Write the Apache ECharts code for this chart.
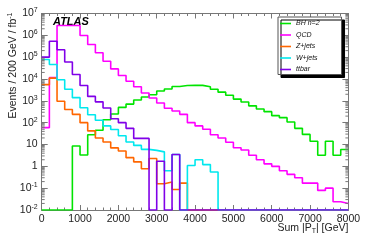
<!DOCTYPE html>
<html><head><meta charset="utf-8">
<script src="https://cdn.jsdelivr.net/npm/echarts@6/dist/echarts.min.js"></script>
<style>html,body{margin:0;padding:0;background:#fff}#c{width:372px;height:242px}</style>
</head><body><div id="c"></div>
<script>
// bin edges: 0..8000 GeV, 200 GeV bins (40 bins); 0 = empty bin
const binWidth = 200;
const seriesNames = ['BH n=2', 'QCD', 'Z+jets', 'W+jets', 'ttbar'];
const bhN2 = [0,0,0,0,8.5,3.3,28,45,135,250,500,710,1100,1500,1900,2800,3500,4500,5000,5100,
  5100,4400,3400,2500,1800,1200,890,590,420,320,210,170,107,55,29,14,3.2,14,3.2,5.9];
const qcd = [59,11500,2.8e6,2.8e6,2.8e6,9.8e5,3.8e5,1.6e5,6.5e4,2.9e4,1.45e4,7900,4400,2300,1350,790,460,340,240,100,
  71,50,28,20,12.6,7.1,5.6,3.2,2.0,1.3,1.0,0.63,0.43,0.30,0.17,0.17,0.079,0.1,0.024,0.02];
const zjets = [5500,11000,950,400,240,100,42,20,13,7,5,2.5,1.6,0.78,2.3,0.16,0.19,0.087,0.17,0,
  0,0,0,0,0,0,0,0,0,0,0,0,0,0,0,0,0,0,0,0];
const wjets = [7.8e4,4.6e4,9300,3400,1400,480,230,130,71,49,25,13,9.1,6.0,5.4,4.6,0.63,3.5,0,1.1,
  2.0,1.2,0.55,0,0,0,0,0,0,0,0,0,0,0,0,0,0,0,0,0];
const ttbar = [1.0e5,5.4e5,2.2e5,6.0e4,1.6e4,5000,1600,900,470,150,100,55,19,19,0,1.7,0,3.5,0,0,
  0,0,0,0,0,0,0,0,0,0,0,0,0,0,0,0,0,0,0,0];
const xTicks = [0,1000,2000,3000,4000,5000,6000,7000,8000];
const xTickLabels = ['0','1000','2000','3000','4000','5000','6000','7000','8000'];
const yTickExp = [-2,-1,0,1,2,3,4,5,6,7];
const yMinorMult = [2,3,4,5,6,7,8,9];
const colors = ['#00e400', '#ff00ff', '#ff6600', '#00e8ee', '#8000e8'];

const yMin = Math.pow(10, yTickExp[0]), yMax = Math.pow(10, yTickExp[yTickExp.length-1]);
function steps(vals){
  const d = vals.map((v,i)=>[i*binWidth, v>0 ? v : yMin]);
  d.push([vals.length*binWidth, vals[vals.length-1]>0 ? vals[vals.length-1] : yMin]);
  return d;
}
const minorTicks = [];
for (let k = 0; k < yTickExp.length-1; k++) for (const m of yMinorMult) minorTicks.push([0, m*Math.pow(10, yTickExp[k])]);

const axisColor = '#777';
const font = 'Liberation Sans';
const supRich = {
  b: {fontSize: 10.5, color: '#222', fontFamily: font},
  s: {fontSize: 7, color: '#222', fontFamily: font, verticalAlign: 'top', padding: [0,0,6,0]}
};
function yLabel(v){
  const e = Math.round(Math.log10(v));
  if (yTickExp.indexOf(e) < 0) return '';
  if (e === 0) return '{b|1}';
  if (e === 1) return '{b|10}';
  return '{b|10}{s|' + e + '}';
}
function xLabel(v){
  const i = xTicks.indexOf(v);
  return i >= 0 ? xTickLabels[i] : '';
}
const xBase = {
  type: 'value', min: xTicks[0], max: xTicks[xTicks.length-1], interval: 1000,
  axisLine: {show: true, onZero: false, lineStyle: {color: axisColor, width: 1}},
  axisTick: {show: true, inside: true, length: 5, lineStyle: {color: axisColor}},
  minorTick: {show: true, splitNumber: 5, length: 2.5, lineStyle: {color: axisColor}},
  splitLine: {show: false}, minorSplitLine: {show: false}
};
const yBase = {
  type: 'log', logBase: 10, min: yMin, max: yMax,
  axisLine: {show: true, onZero: false, lineStyle: {color: axisColor, width: 1}},
  axisTick: {show: true, inside: true, length: 6, lineStyle: {color: axisColor}},
  splitLine: {show: false}
};
const dataSeries = [bhN2, qcd, zjets, wjets, ttbar];
const series = dataSeries.map((vals, i) => ({
  name: seriesNames[i], type: 'line', step: 'end', data: steps(vals),
  symbol: 'none', clip: true, z: 3 + i,
  lineStyle: {color: colors[i], width: 1.6}, itemStyle: {color: colors[i]}
}));
series.push({
  type: 'custom', silent: true, z: 10, data: minorTicks, clip: false,
  renderItem: function(params, api){
    const v = api.value(1);
    const p = api.coord([xTicks[0], v]);
    const q = api.coord([xTicks[xTicks.length-1], v]);
    return {type: 'group', children: [
      {type: 'line', shape: {x1: p[0], y1: p[1], x2: p[0]+3, y2: p[1]}, style: {stroke: axisColor, lineWidth: 1}},
      {type: 'line', shape: {x1: q[0]-3, y1: q[1], x2: q[0], y2: q[1]}, style: {stroke: axisColor, lineWidth: 1}}
    ]};
  }
});

const chart = echarts.init(document.getElementById('c'), null, {renderer: 'canvas'});
chart.setOption({
  animation: false,
  backgroundColor: '#fff',
  textStyle: {fontFamily: font},
  grid: {left: 41.7, right: 23.6, top: 13.5, bottom: 32, containLabel: false},
  xAxis: [
    Object.assign({}, xBase, {position: 'bottom', axisLabel: {show: true, fontSize: 10.5, color: '#222', margin: 4, fontFamily: font, formatter: xLabel}}),
    Object.assign({}, xBase, {position: 'top', axisLabel: {show: false}})
  ],
  yAxis: [
    Object.assign({}, yBase, {position: 'left', axisLabel: {show: true, margin: 4, formatter: yLabel, rich: supRich}}),
    Object.assign({}, yBase, {position: 'right', axisLabel: {show: false}})
  ],
  legend: {
    data: seriesNames.map((n, i) => ({name: n, icon: 'rect', itemStyle: {color: colors[i]}})),
    orient: 'vertical', left: 278, top: 17,
    padding: [2.5, 22, 1, 2], itemWidth: 11, itemHeight: 1.6, itemGap: 3.5,
    textStyle: {fontSize: 7, lineHeight: 8, fontStyle: 'italic', color: '#111', fontFamily: font},
    backgroundColor: '#fff', borderColor: '#555', borderWidth: 1, borderRadius: 0,
    shadowColor: '#000', shadowBlur: 0, shadowOffsetX: 3, shadowOffsetY: 3,
    selectedMode: false
  },
  graphic: [
    {type: 'text', x: 53, y: 21.5, style: {text: 'ATLAS', fontSize: 11, fontWeight: 'bold', fontStyle: 'italic', fill: '#000', fontFamily: font, verticalAlign: 'middle', align: 'left'}},
    {type: 'text', x: 13, y: 12.5, rotation: Math.PI/2, style: {
      text: '{b|Events / 200 GeV / fb}{s|-1}', align: 'right', verticalAlign: 'middle',
      rich: {b: {fontSize: 10.5, fill: '#222', fontFamily: font}, s: {fontSize: 7, fill: '#222', fontFamily: font, verticalAlign: 'top', padding: [0,0,6,0]}}}},
    {type: 'text', x: 348.4, y: 228.5, style: {
      text: '{b|Sum |P}{t|T}{b|| [GeV]}', align: 'right', verticalAlign: 'middle',
      rich: {b: {fontSize: 10.5, fill: '#222', fontFamily: font}, t: {fontSize: 7, fill: '#222', fontFamily: font, verticalAlign: 'bottom', padding: [6,0,0,0]}}}}
  ],
  series: series
});
</script></body></html>
